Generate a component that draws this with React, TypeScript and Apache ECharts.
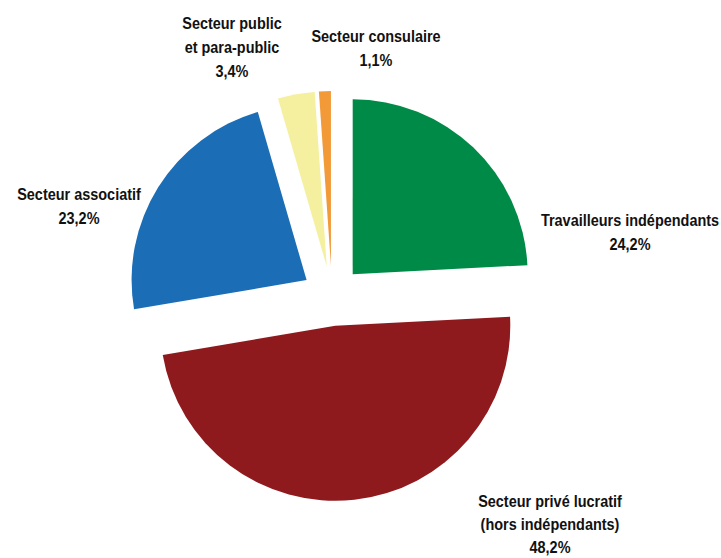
import React, { useEffect, useRef } from "react";
import * as echarts from "echarts";

const categories = [
  "Travailleurs indépendants",
  "Secteur privé lucratif\n(hors indépendants)",
  "Secteur associatif",
  "Secteur public\net para-public",
  "Secteur consulaire",
];
const values = [24.2, 48.2, 23.2, 3.4, 1.1];
const colors = ["#008A47", "#8E1A1E", "#1B6DB6", "#F5F0A0", "#F39A38"];
const labelCenters: [number, number][] = [
  [630, 232],
  [550, 524],
  [79, 206],
  [232, 47],
  [376, 48],
];

const fmt = (v: number) => v.toFixed(1).replace(".", ",") + "%";

export default function App() {
  const ref = useRef<HTMLDivElement>(null);
  useEffect(() => {
    document.body.style.margin = "0";
    const chart = echarts.init(ref.current!, null, { renderer: "svg" });
    chart.setOption({
      animation: false,
      backgroundColor: "#ffffff",
      graphic: categories.map((name, i) => ({
        type: "text",
        x: labelCenters[i][0],
        y: labelCenters[i][1],
        scaleX: 0.85,
        style: {
          text: name + "\n" + fmt(values[i]),
          align: "center",
          verticalAlign: "middle",
          fontFamily: "'Liberation Sans', Arial, sans-serif",
          fontWeight: "bold",
          fontSize: 17,
          lineHeight: i === 1 ? 23 : 24,
          fill: "#111111",
        },
      })),
      series: [
        {
          type: "pie",
          center: [332, 296],
          radius: [0, 175],
          startAngle: 90,
          clockwise: true,
          selectedMode: "multiple",
          selectedOffset: 30,
          label: { show: false },
          labelLine: { show: false },
          emphasis: { disabled: true },
          data: categories.map((name, i) => ({
            name,
            value: values[i],
            selected: true,
            itemStyle: { color: colors[i], borderWidth: 0 },
            select: { itemStyle: { color: colors[i], borderWidth: 0 } },
          })),
        },
      ],
    });
    return () => chart.dispose();
  }, []);
  return <div ref={ref} style={{ width: 721, height: 558 }} />;
}
